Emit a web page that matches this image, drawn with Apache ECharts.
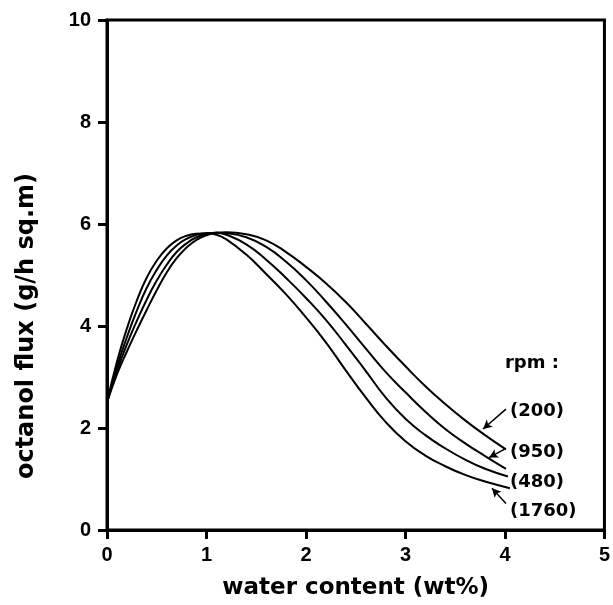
<!DOCTYPE html>
<html><head><meta charset="utf-8">
<script src="https://cdn.jsdelivr.net/npm/echarts@6/dist/echarts.min.js"></script>
<style>html,body{margin:0;padding:0;background:#fff}#c{width:613px;height:605px}</style>
</head><body><div id="c"></div>
<script>
var xTicks = [0, 1, 2, 3, 4, 5];
var yTicks = [0, 2, 4, 6, 8, 10];
var xTitle = 'water content (wt%)';
var yTitle = 'octanol flux (g/h sq.m)';
var rpm1760 = [[0,2.5],[0.1,3.3],[0.2,3.95],[0.3,4.5],[0.4,4.95],[0.5,5.28],[0.6,5.52],[0.7,5.68],[0.8,5.77],[0.9,5.81],[1.0,5.82],[1.1,5.79],[1.2,5.7],[1.4,5.4],[1.6,5.02],[1.8,4.62],[2.0,4.17],[2.2,3.68],[2.4,3.13],[2.6,2.6],[2.8,2.12],[3.0,1.74],[3.2,1.46],[3.4,1.25],[3.6,1.08],[3.8,0.95],[4.05,0.82]];
var rpm480 = [[0,2.5],[0.1,3.2],[0.2,3.78],[0.3,4.3],[0.4,4.75],[0.5,5.1],[0.6,5.38],[0.7,5.58],[0.8,5.71],[0.9,5.79],[1.0,5.82],[1.1,5.83],[1.2,5.79],[1.4,5.6],[1.6,5.3],[1.8,4.94],[2.0,4.55],[2.2,4.12],[2.4,3.63],[2.6,3.12],[2.8,2.6],[3.0,2.18],[3.2,1.86],[3.4,1.6],[3.6,1.38],[3.8,1.2],[4.03,1.05]];
var rpm950 = [[0,2.5],[0.1,3.12],[0.2,3.64],[0.3,4.1],[0.4,4.52],[0.5,4.89],[0.6,5.2],[0.7,5.45],[0.8,5.62],[0.9,5.74],[1.0,5.8],[1.1,5.83],[1.2,5.82],[1.4,5.74],[1.6,5.55],[1.8,5.26],[2.0,4.9],[2.2,4.48],[2.4,4.03],[2.6,3.56],[2.8,3.1],[3.0,2.7],[3.2,2.32],[3.4,1.98],[3.6,1.7],[3.8,1.45],[4.01,1.2]];
var rpm200 = [[0,2.5],[0.1,3.05],[0.2,3.5],[0.3,3.92],[0.4,4.32],[0.5,4.7],[0.6,5.05],[0.7,5.33],[0.8,5.54],[0.9,5.69],[1.0,5.78],[1.1,5.83],[1.2,5.84],[1.4,5.8],[1.6,5.68],[1.8,5.45],[2.0,5.16],[2.2,4.84],[2.4,4.47],[2.6,4.05],[2.8,3.62],[3.0,3.21],[3.2,2.82],[3.4,2.47],[3.6,2.15],[3.8,1.86],[4.01,1.58]];
var labelTexts = ['rpm :', '(200)', '(950)', '(480)', '(1760)'];
var labelPos = [[4.0, 3.27], [4.05, 2.33], [4.05, 1.53], [4.05, 0.94], [4.05, 0.36]];
var arrows = [
  [[4.01, 2.37], [3.78, 1.98]],
  [[4.01, 1.60], [3.84, 1.42]],
  [[4.01, 0.52], [3.87, 0.82]]
];

var chart = echarts.init(document.getElementById('c'));
var FONT = 'Liberation Sans';
var WFONT = 'DejaVu Sans';
function curve(name, data) {
  return {name: name, type: 'line', data: data, smooth: 0.5, symbol: 'none',
    lineStyle: {color: '#000', width: 2}, z: 3};
}
var series = [curve('1760', rpm1760), curve('480', rpm480), curve('950', rpm950), curve('200', rpm200)];
series.push({
  type: 'scatter', symbolSize: 0, silent: true, itemStyle: {opacity: 1, color: '#000'},
  data: labelPos.map(function (p, i) { return {value: p, name: labelTexts[i]}; }),
  label: {show: true, position: 'right', distance: 0, formatter: function (p) { return p.name; },
    fontFamily: WFONT, fontWeight: 'bold', fontSize: 18, color: '#000', opacity: 1}
});
series.push({
  type: 'line', data: [], silent: true,
  markLine: {silent: true, symbol: ['none', 'arrow'], symbolSize: [7, 9],
    lineStyle: {color: '#000', width: 1.5, type: 'solid'}, label: {show: false},
    data: arrows.map(function (a) { return [{coord: a[0]}, {coord: a[1]}]; })}
});
chart.setOption({
  animation: false,
  grid: {left: 107, right: 6, top: 20, bottom: 71, show: true, borderColor: '#000', borderWidth: 3},
  xAxis: {type: 'value', min: 0, max: 5, interval: 1,
    name: xTitle, nameLocation: 'middle', nameGap: 47,
    nameTextStyle: {fontFamily: WFONT, fontWeight: 'bold', fontSize: 23, color: '#000'},
    axisLine: {lineStyle: {color: '#000', width: 3}},
    axisTick: {inside: false, length: 9, lineStyle: {color: '#000', width: 3}},
    axisLabel: {margin: 15, fontFamily: FONT, fontWeight: 'bold', fontSize: 20, color: '#000',
      formatter: function (v) { return xTicks.indexOf(v) >= 0 ? String(v) : ''; }},
    splitLine: {show: false}},
  yAxis: {type: 'value', min: 0, max: 10, interval: 2,
    axisLine: {lineStyle: {color: '#000', width: 3}},
    axisTick: {inside: false, length: 9, lineStyle: {color: '#000', width: 3}},
    axisLabel: {margin: 16, fontFamily: FONT, fontWeight: 'bold', fontSize: 20, color: '#000',
      formatter: function (v) { return yTicks.indexOf(v) >= 0 ? String(v) : ''; }},
    splitLine: {show: false}},
  graphic: [{type: 'text', x: 27, y: 326, rotation: Math.PI / 2,
    style: {text: yTitle, x: 0, y: 0, align: 'center', verticalAlign: 'middle',
      fontFamily: WFONT, fontWeight: 'bold', fontSize: 24, fill: '#000'}}],
  series: series
});
</script></body></html>
